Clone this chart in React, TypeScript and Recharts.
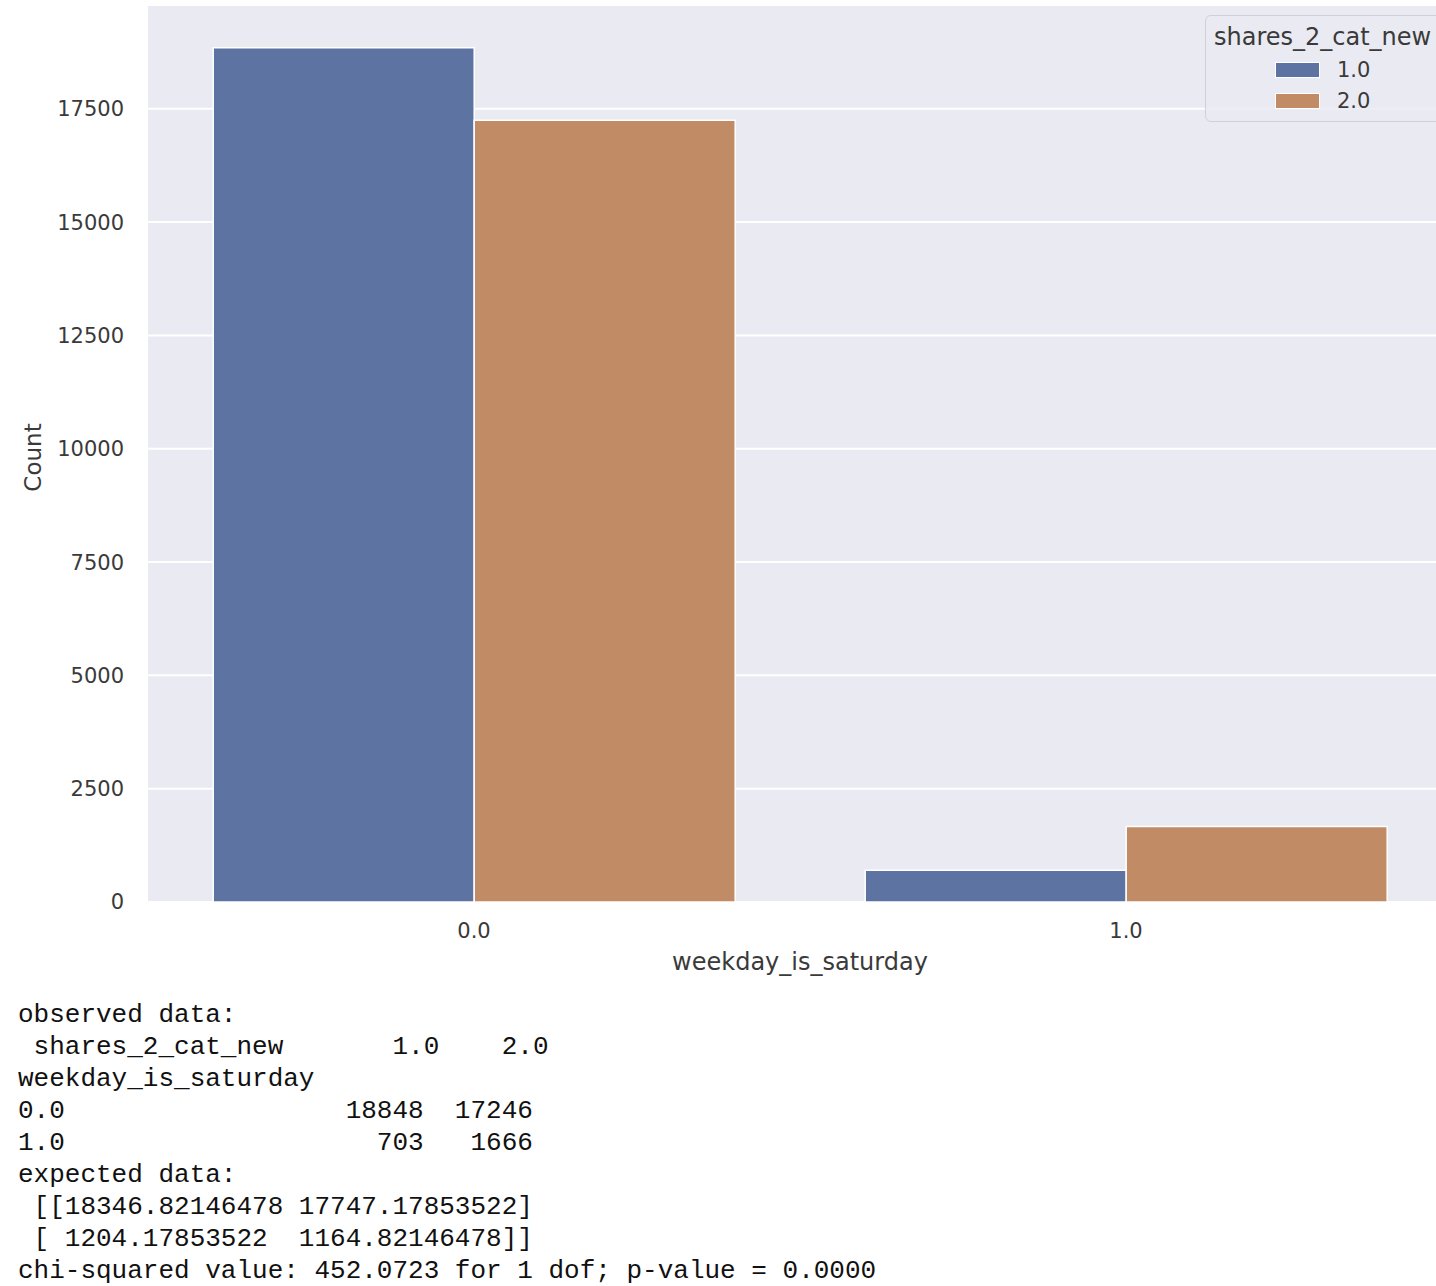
import React from "react"
import { BarChart, Bar, XAxis, YAxis, CartesianGrid, Legend } from "recharts"

// observed counts
const categories = ["0.0", "1.0"]
const sharesCat1 = [18848, 703]
const sharesCat2 = [17246, 1666]
const seriesNames = ["1.0", "2.0"]
const yTicks = [0, 2500, 5000, 7500, 10000, 12500, 15000, 17500]

const outputLines = [
  "observed data:",
  " shares_2_cat_new       1.0    2.0",
  "weekday_is_saturday",
  "0.0                  18848  17246",
  "1.0                    703   1666",
  "expected data:",
  " [[18346.82146478 17747.17853522]",
  " [ 1204.17853522  1164.82146478]]",
  "chi-squared value: 452.0723 for 1 dof; p-value = 0.0000",
]

const BLUE = "#5d73a1"
const ORANGE = "#c18b66"
const BG = "#eaeaf2"
const TEXT = "#3a3a3a"
const FONT = "'DejaVu Sans', sans-serif"

const data = categories.map((c, i) => ({
  name: c,
  s1: sharesCat1[i],
  s2: sharesCat2[i],
}))

function LegendBox({ payload }: { payload?: any[] }) {
  return (
    <div
      style={{
        position: "relative",
        width: 260,
        height: 105,
        background: "rgba(234,234,242,0.85)",
        border: "1px solid #d0d0d6",
        borderRadius: 6,
        fontFamily: FONT,
        color: TEXT,
      }}
    >
      <div style={{ position: "absolute", left: 8, top: 7, fontSize: 24, lineHeight: "28px" }}>
        shares_2_cat_new
      </div>
      {(payload || []).map((p: any, i: number) => (
        <div key={i} style={{ position: "absolute", left: 69, top: 45 + i * 31, height: 18, display: "flex", alignItems: "center" }}>
          <div style={{ width: 43, height: 14, background: p.color, border: "1px solid #fff" }} />
          <span style={{ marginLeft: 17, fontSize: 21 }}>{p.value}</span>
        </div>
      ))}
    </div>
  )
}

export default function App() {
  return (
    <div style={{ position: "relative", width: 1436, height: 1286, overflow: "hidden", background: "#fff" }}>
      <style>{`body{margin:0;overflow:hidden}`}</style>
      <div style={{ position: "absolute", left: 0, top: 0 }}>
        <BarChart
          width={1460}
          height={990}
          data={data}
          barCategoryGap="10%"
          barGap={0}
          margin={{ top: 5, right: 8, left: 0, bottom: 16 }}
        >
          <CartesianGrid vertical={false} stroke="#ffffff" strokeWidth={2} fill={BG} />
          <XAxis
            dataKey="name"
            axisLine={false}
            tickLine={false}
            tickSize={0}
            tickMargin={21}
            height={72}
            tick={{ fill: TEXT, fontSize: 21, fontFamily: FONT }}
            label={{
              value: "weekday_is_saturday",
              position: "insideBottom",
              offset: 4,
              fill: TEXT,
              fontSize: 24,
              fontFamily: FONT,
            }}
          />
          <YAxis
            width={148}
            domain={[0, 19790]}
            ticks={yTicks}
            axisLine={false}
            tickLine={false}
            tickSize={0}
            tickMargin={24}
            tick={{ fill: TEXT, fontSize: 21, fontFamily: FONT }}
            label={{
              value: "Count",
              angle: -90,
              position: "insideLeft",
              offset: 33,
              dy: 4,
              fill: TEXT,
              fontSize: 23,
              fontFamily: FONT,
              style: { textAnchor: "middle" },
            }}
          />
          <Legend
            verticalAlign="middle"
            align="center"
            layout="horizontal"
            content={(props: any) => <LegendBox payload={props.payload} />}
            wrapperStyle={{ position: "absolute", left: 1205, top: 15, width: 260, height: 105 }}
          />
          <Bar dataKey="s1" name={seriesNames[0]} fill={BLUE} stroke="#ffffff" strokeWidth={1.5} isAnimationActive={false} />
          <Bar dataKey="s2" name={seriesNames[1]} fill={ORANGE} stroke="#ffffff" strokeWidth={1.5} isAnimationActive={false} />
        </BarChart>
      </div>
      <pre
        style={{
          position: "absolute",
          left: 18,
          top: 999,
          margin: 0,
          fontFamily: "'Liberation Mono', monospace",
          fontSize: 26,
          lineHeight: "32px",
          color: "#111",
        }}
      >
        {outputLines.join("\n")}
      </pre>
    </div>
  )
}
